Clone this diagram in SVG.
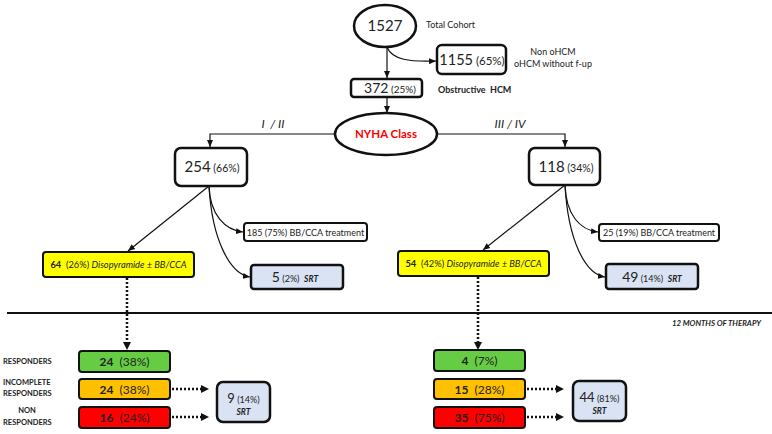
<svg xmlns="http://www.w3.org/2000/svg" width="772" height="434" viewBox="0 0 772 434">
<style>
text{font-family:Lato,"Liberation Sans",sans-serif;fill:#222}
.box{fill:#fff;stroke:#111;stroke-width:2.5}
.thin{fill:#fff;stroke:#111;stroke-width:2}
.yel{fill:#ffff00;stroke:#111;stroke-width:2}
.srt{fill:#dae3f3;stroke:#111;stroke-width:2.5}
.grn{fill:#66cc44;stroke:#111;stroke-width:2}
.org{fill:#ffc000;stroke:#111;stroke-width:2}
.red{fill:#ff0000;stroke:#111;stroke-width:2}
.ln{fill:none;stroke:#111;stroke-width:1.2}
.dot{fill:none;stroke:#111;stroke-width:2.5;stroke-dasharray:2 2}
.lbl{font-size:7.5px;font-weight:bold}
</style>
<defs>
<marker id="a" markerWidth="8" markerHeight="8" refX="7" refY="4" orient="auto" markerUnits="userSpaceOnUse"><path d="M0,1 L7,4 L0,7 Z" fill="#111"/></marker>
</defs>
<g id="connectors">
<path class="ln" d="M387,47 L387,78" marker-end="url(#a)"/>
<path class="ln" d="M387,47 C392,60 410,62 436,61" marker-end="url(#a)"/>
<path class="ln" d="M387,97 L387,113" marker-end="url(#a)"/>
<path class="ln" d="M335,134 L210,134 L210,147" marker-end="url(#a)"/>
<path class="ln" d="M437,134 L565,134 L565,147" marker-end="url(#a)"/>
<path class="ln" d="M209,186 L128,251" marker-end="url(#a)"/>
<path class="ln" d="M209,186 C210,215 225,230 243,232" marker-end="url(#a)"/>
<path class="ln" d="M209,186 C212,240 230,274 250,277" marker-end="url(#a)"/>
<path class="ln" d="M565,185 L483,250" marker-end="url(#a)"/>
<path class="ln" d="M565,185 C566,215 580,230 598,232" marker-end="url(#a)"/>
<path class="ln" d="M565,185 C568,240 585,274 605,277" marker-end="url(#a)"/>
<path class="dot" d="M127,278 L127,342"/>
<path d="M123,342 L131,342 L127,350 Z" fill="#111"/>
<path class="dot" d="M478,277 L478,342"/>
<path d="M474,342 L482,342 L478,350 Z" fill="#111"/>
<path class="dot" d="M172,389 L201,389"/>
<path d="M201,385 L209,389 L201,393 Z" fill="#111"/>
<path class="dot" d="M172,417 L201,417"/>
<path d="M201,413 L209,417 L201,421 Z" fill="#111"/>
<path class="dot" d="M527,389 L556,389"/>
<path d="M556,385 L564,389 L556,393 Z" fill="#111"/>
<path class="dot" d="M527,417 L556,417"/>
<path d="M556,413 L564,417 L556,421 Z" fill="#111"/>
</g>
<line x1="7" y1="313" x2="772" y2="313" stroke="#111" stroke-width="2"/>
<text x="761" y="326" text-anchor="end" font-size="7.8" font-weight="bold" font-style="italic">12 MONTHS OF THERAPY</text>
<g id="n1527"><ellipse cx="385" cy="26" rx="31" ry="21" fill="#fff" stroke="#111" stroke-width="2.5"/><text x="385" y="31" text-anchor="middle" font-size="15">1527</text></g>
<text x="426" y="28" font-size="9">Total Cohort</text>
<g id="n1155"><rect class="box" x="437" y="45" width="69" height="29" rx="5"/><text x="472" y="65" text-anchor="middle"><tspan font-size="14.5">1155</tspan><tspan font-size="11.5"> (65%)</tspan></text></g>
<text x="553" y="55" text-anchor="middle" font-size="9">Non oHCM</text>
<text x="553" y="67" text-anchor="middle" font-size="9">oHCM without f-up</text>
<g id="n372"><rect class="box" x="351" y="79" width="71" height="18" rx="3"/><text x="390" y="93" text-anchor="middle"><tspan font-size="14">372</tspan><tspan font-size="10"> (25%)</tspan></text></g>
<text x="438" y="93" font-size="9" font-weight="bold" xml:space="preserve">Obstructive  HCM</text>
<g id="nyha"><ellipse cx="386" cy="134" rx="51" ry="21" fill="#fff" stroke="#111" stroke-width="2.5"/><text x="386" y="138" text-anchor="middle" font-size="11.5" font-weight="bold" style="fill:#ff0000">NYHA Class</text></g>
<text x="273" y="128" text-anchor="middle" font-size="12" font-style="italic" xml:space="preserve">I  / II</text>
<text x="510" y="128" text-anchor="middle" font-size="12" font-style="italic">III / IV</text>
<g id="n254"><rect class="box" x="175" y="148" width="72" height="38" rx="6"/><text x="212" y="172" text-anchor="middle"><tspan font-size="15">254</tspan><tspan font-size="10.5"> (66%)</tspan></text></g>
<g id="n118"><rect class="box" x="529" y="148" width="71" height="37" rx="6"/><text x="566" y="172" text-anchor="middle"><tspan font-size="15">118</tspan><tspan font-size="10.5"> (34%)</tspan></text></g>
<g id="n185"><rect class="thin" x="244" y="223" width="123" height="18" rx="3"/><text x="305.5" y="235.5" text-anchor="middle" font-size="9">185 (75%) BB/CCA treatment</text></g>
<g id="n64"><rect class="yel" x="43" y="252" width="151" height="25" rx="3"/><text x="118.5" y="268" text-anchor="middle" font-size="9.3" xml:space="preserve"><tspan font-weight="bold">64</tspan>  (26%) <tspan font-style="italic">Disopyramide ± BB/CCA</tspan></text></g>
<g id="n5"><rect class="srt" x="251" y="265" width="92" height="24" rx="3"/><text x="295" y="282" text-anchor="middle" xml:space="preserve"><tspan font-size="14">5</tspan><tspan font-size="9"> (2%)  </tspan><tspan font-size="8.5" font-weight="bold" font-style="italic">SRT</tspan></text></g>
<g id="n25"><rect class="thin" x="599" y="224" width="120" height="17" rx="3"/><text x="659" y="236" text-anchor="middle" font-size="9">25 (19%) BB/CCA treatment</text></g>
<g id="n54"><rect class="yel" x="398" y="251" width="151" height="25" rx="3"/><text x="473.5" y="267" text-anchor="middle" font-size="9.3" xml:space="preserve"><tspan font-weight="bold">54</tspan>  (42%) <tspan font-style="italic">Disopyramide ± BB/CCA</tspan></text></g>
<g id="n49"><rect class="srt" x="606" y="264" width="92" height="25" rx="3"/><text x="652" y="282" text-anchor="middle" xml:space="preserve"><tspan font-size="14">49</tspan><tspan font-size="9"> (14%)  </tspan><tspan font-size="8.5" font-weight="bold" font-style="italic">SRT</tspan></text></g>
<text class="lbl" x="3" y="364">RESPONDERS</text>
<text class="lbl" x="3" y="385">INCOMPLETE</text>
<text class="lbl" x="3" y="396">RESPONDERS</text>
<text class="lbl" x="27" y="413" text-anchor="middle">NON</text>
<text class="lbl" x="3" y="425">RESPONDERS</text>
<g id="l24a"><rect class="grn" x="79" y="351" width="91" height="21" rx="3"/><text x="124.5" y="366" text-anchor="middle" font-size="12" xml:space="preserve"><tspan font-weight="bold">24</tspan>  (38%)</text></g>
<g id="l24b"><rect class="org" x="79" y="379" width="91" height="20" rx="3"/><text x="124.5" y="394" text-anchor="middle" font-size="12" xml:space="preserve"><tspan font-weight="bold">24</tspan>  (38%)</text></g>
<g id="l16"><rect class="red" x="79" y="407" width="91" height="21" rx="3"/><text x="124.5" y="422" text-anchor="middle" font-size="12" xml:space="preserve"><tspan font-weight="bold">16</tspan>  (24%)</text></g>
<g id="l9"><rect class="srt" x="217" y="382" width="53" height="40" rx="6"/><text x="243.5" y="403" text-anchor="middle"><tspan font-size="13">9</tspan><tspan font-size="9"> (14%)</tspan></text><text x="243.5" y="415" text-anchor="middle" font-size="8.5" font-weight="bold" font-style="italic">SRT</text></g>
<g id="r4"><rect class="grn" x="434" y="350" width="91" height="21" rx="3"/><text x="479.5" y="365" text-anchor="middle" font-size="12" xml:space="preserve"><tspan font-weight="bold">4</tspan>  (7%)</text></g>
<g id="r15"><rect class="org" x="434" y="379" width="91" height="20" rx="3"/><text x="479.5" y="394" text-anchor="middle" font-size="12" xml:space="preserve"><tspan font-weight="bold">15</tspan>  (28%)</text></g>
<g id="r35"><rect class="red" x="434" y="407" width="91" height="21" rx="3"/><text x="479.5" y="422" text-anchor="middle" font-size="12" xml:space="preserve"><tspan font-weight="bold">35</tspan>  (75%)</text></g>
<g id="r44"><rect class="srt" x="573" y="381" width="53" height="40" rx="6"/><text x="599.5" y="402" text-anchor="middle"><tspan font-size="13">44</tspan><tspan font-size="9"> (81%)</tspan></text><text x="599.5" y="414" text-anchor="middle" font-size="8.5" font-weight="bold" font-style="italic">SRT</text></g>
</svg>
